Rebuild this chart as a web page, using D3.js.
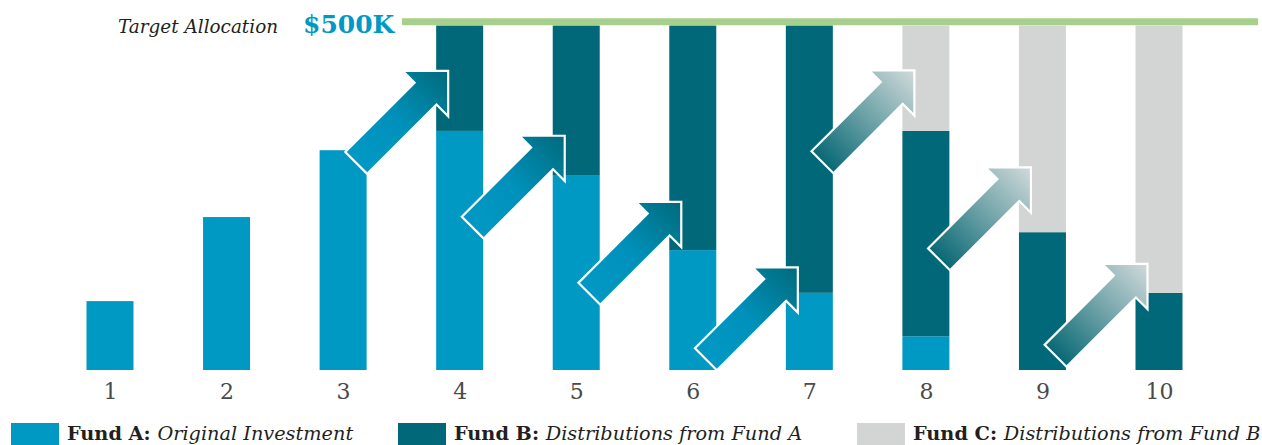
<!DOCTYPE html>
<html lang="en">
<head>
    <meta charset="UTF-8">
    <title>Fund Allocation</title>
    <style>
        body, html {
          margin: 0;
          width: 100%;
          height: 100%;
          background: #fff;
        }

        svg {
          display: block;
        }

        .axis text {
            font-family: "DejaVu Serif", serif;
            font-size: 22px;
            fill: #4a4a4a;
        }

        .legend text {
            font-family: "DejaVu Serif", serif;
            font-size: 19.3px;
            fill: #231f20;
        }
    </style>
</head>
<body>
    <svg width="1262" height="445"></svg>

    <script src="https://cdnjs.cloudflare.com/ajax/libs/d3/7.8.5/d3.min.js"></script>
    <script>

        // values in $K
        const categories = ["1", "2", "3", "4", "5", "6", "7", "8", "9", "10"];
        const fundA = [100, 222, 319, 347, 282, 174, 112, 49, 0, 0];
        const fundB = [0, 0, 0, 153, 218, 326, 388, 298, 200, 112];
        const fundC = [0, 0, 0, 0, 0, 0, 0, 153, 300, 388];
        const targetValue = 500;
        const targetLabel = "$500K";

        // arrows: which bar they point to, value at the arrow tip, colour kind
        const arrowTo = ["4", "5", "6", "7", "8", "9", "10"];
        const arrowTip = [434, 340, 244, 149, 435, 294, 154];
        const arrowKind = ["A", "A", "A", "A", "B", "B", "B"];

        const legendKeys = ["A", "B", "C"];
        const legendNames = ["Fund A:", "Fund B:", "Fund C:"];
        const legendDescs = ["Original Investment", "Distributions from Fund A", "Distributions from Fund B"];

        const colors = { A: "#0099c4", B: "#006878", C: "#d3d5d4" };

        const svg = d3.select("svg");
        const barWidth = 47;

        const x = d3.scalePoint()
                    .domain(categories)
                    .range([110, 1159]);

        const y = d3.scaleLinear()
                    .domain([0, targetValue])
                    .range([370, 25.5]);

        const rows = categories.map((c, i) => ({ cat: c, A: fundA[i], B: fundB[i], C: fundC[i] }));
        const series = d3.stack().keys(["A", "B", "C"])(rows);

        // gradients for the arrows
        const defs = svg.append("defs");
        const gradStops = {
            A: [[0, "#0099c4"], [0.45, "#0091bb"], [1, "#006a7b"]],
            B: [[0, "#086875"], [0.5, "#6fa3a8"], [1, "#d2dadb"]]
        };
        Object.keys(gradStops).forEach(k => {
            const g = defs.append("linearGradient")
                          .attr("id", "grad" + k)
                          .attr("x1", 0).attr("y1", 0)
                          .attr("x2", 1).attr("y2", 0);
            gradStops[k].forEach(s => g.append("stop").attr("offset", s[0]).attr("stop-color", s[1]));
        });

        // bars
        svg.append("g")
           .selectAll("g")
           .data(series)
           .join("g")
           .attr("fill", d => colors[d.key])
           .selectAll("rect")
           .data(d => d.filter(s => s[1] > s[0]))
           .join("rect")
           .attr("x", d => x(d.data.cat) - barWidth / 2)
           .attr("width", barWidth)
           .attr("y", d => y(d[1]))
           .attr("height", d => y(d[0]) - y(d[1]));

        // arrows (drawn pointing right, then turned 45 degrees)
        const arrowShape = [[0, 0], [-32, -32], [-32, -15.5], [-130, -15.5], [-130, 15.5], [-32, 15.5], [-32, 32]];
        svg.append("g")
           .selectAll("g")
           .data(arrowTo.map((t, i) => ({ to: t, tip: arrowTip[i], kind: arrowKind[i] })))
           .join("g")
           .attr("transform", d => `translate(${x(d.to) - barWidth / 2 + 12},${y(d.tip)}) rotate(-45)`)
           .append("polygon")
           .attr("points", arrowShape.map(p => p.join(",")).join(" "))
           .attr("fill", d => `url(#grad${d.kind})`)
           .attr("stroke", "#fff")
           .attr("stroke-width", 2.2)
           .attr("stroke-linejoin", "miter");

        // target line
        svg.append("line")
           .attr("x1", 402)
           .attr("x2", 1258)
           .attr("y1", y(targetValue) - 3.7)
           .attr("y2", y(targetValue) - 3.7)
           .attr("stroke", "#a8d08d")
           .attr("stroke-width", 7);

        svg.append("text")
           .attr("x", 118)
           .attr("y", 33)
           .attr("font-family", "DejaVu Serif, serif")
           .attr("font-style", "italic")
           .attr("font-size", 18.4)
           .attr("fill", "#231f20")
           .text("Target Allocation");

        svg.append("text")
           .attr("x", 303)
           .attr("y", 33)
           .attr("font-family", "DejaVu Serif, serif")
           .attr("font-weight", "bold")
           .attr("font-size", 25)
           .attr("fill", colors.A)
           .text(targetLabel);

        // category axis
        const axis = svg.append("g")
                        .attr("class", "axis")
                        .attr("transform", "translate(0,370)")
                        .call(d3.axisBottom(x).tickSize(0).tickPadding(13));
        axis.select(".domain").remove();

        // legend
        const legendX = [11, 398, 857];
        const legend = svg.append("g")
                          .attr("class", "legend")
                          .selectAll("g")
                          .data(legendKeys)
                          .join("g")
                          .attr("transform", (d, i) => `translate(${legendX[i]},0)`);

        legend.append("rect")
              .attr("y", 423)
              .attr("width", 48)
              .attr("height", 23)
              .attr("fill", d => colors[d]);

        const lt = legend.append("text")
                         .attr("x", 56)
                         .attr("y", 440);
        lt.append("tspan")
          .attr("font-weight", "bold")
          .text((d, i) => legendNames[i] + " ");
        lt.append("tspan")
          .attr("font-style", "italic")
          .text((d, i) => legendDescs[i]);

    </script>
</body>
</html>
